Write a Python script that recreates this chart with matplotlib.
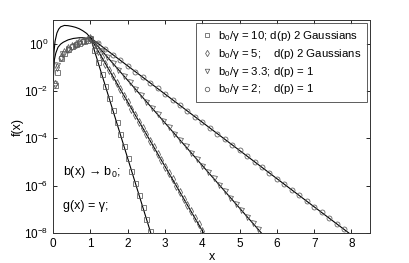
import numpy as np
import matplotlib
matplotlib.use("Agg")
import matplotlib.pyplot as plt
from matplotlib.ticker import NullLocator

plt.rcParams['font.family'] = ['Liberation Sans', 'DejaVu Sans']
plt.rcParams['mathtext.fontset'] = 'custom'
plt.rcParams['mathtext.rm'] = 'Liberation Sans'
plt.rcParams['mathtext.it'] = 'Liberation Sans:italic'

# --- simulated histograms (log10 f) ---
sq_x = [0.05, 0.1, 0.2, 0.3, 0.4, 0.5, 0.6, 0.7, 0.8, 0.9, 1.0,
        1.1, 1.2, 1.3, 1.4, 1.5, 1.6, 1.7, 1.8, 1.9, 2.0,
        2.1, 2.2, 2.3, 2.4, 2.5, 2.6]
sq_lg = [-1.75, -1.2, -0.6, -0.38, -0.24, -0.12, -0.03, 0.04, 0.1, 0.16, 0.22,
         -0.26, -0.77, -1.28, -1.79, -2.30, -2.81, -3.32, -3.83, -4.34, -4.85,
         -5.36, -5.87, -6.38, -6.89, -7.40, -7.91]

di_x = [0.05, 0.1, 0.2, 0.3, 0.4, 0.5, 0.6, 0.7, 0.8, 0.9, 1.0,
        1.1, 1.2, 1.3, 1.4, 1.5, 1.6, 1.7, 1.8, 1.9, 2.0,
        2.1, 2.2, 2.3, 2.4, 2.5, 2.6, 2.7, 2.8, 2.9, 3.0,
        3.1, 3.2, 3.3, 3.4, 3.5, 3.6, 3.7, 3.8, 3.9, 4.0]
di_lg = [-1.7, -1.0, -0.55, -0.35, -0.2, -0.1, 0.0, 0.07, 0.12, 0.17, 0.22,
         -0.02, -0.29, -0.57, -0.84, -1.11, -1.38, -1.65, -1.93, -2.20, -2.47,
         -2.74, -3.01, -3.29, -3.56, -3.83, -4.10, -4.37, -4.65, -4.92, -5.19,
         -5.46, -5.73, -6.01, -6.28, -6.55, -6.82, -7.09, -7.37, -7.64, -7.91]

tr_x = [0.1, 0.25, 0.4, 0.55, 0.7, 0.85, 1.0,
        1.15, 1.3, 1.45, 1.6, 1.75, 1.9, 2.05, 2.2, 2.35, 2.5,
        2.65, 2.8, 2.95, 3.1, 3.25, 3.4, 3.55, 3.7, 3.85, 4.0,
        4.15, 4.3, 4.45, 4.6, 4.75, 4.9, 5.05, 5.2, 5.35, 5.5]
tr_lg = [-0.9, -0.45, -0.22, -0.08, 0.03, 0.12, 0.2,
         -0.02, -0.29, -0.56, -0.83, -1.10, -1.37, -1.64, -1.91, -2.18, -2.45,
         -2.72, -2.99, -3.26, -3.53, -3.80, -4.07, -4.34, -4.61, -4.88, -5.15,
         -5.42, -5.69, -5.96, -6.23, -6.50, -6.77, -7.04, -7.31, -7.58, -7.85]

ci_x = [0.05, 0.2, 0.4, 0.6, 0.8, 1.0,
        1.2, 1.4, 1.6, 1.8, 2.0, 2.2, 2.4, 2.6, 2.8, 3.0,
        3.2, 3.4, 3.6, 3.8, 4.0, 4.2, 4.4, 4.6, 4.8, 5.0,
        5.2, 5.4, 5.6, 5.8, 6.0, 6.2, 6.4, 6.6, 6.8, 7.0,
        7.2, 7.4, 7.6, 7.8]
ci_lg = [-1.65, -0.6, -0.25, -0.05, 0.1, 0.22,
         0.01, -0.23, -0.46, -0.70, -0.94, -1.18, -1.42, -1.65, -1.89, -2.13,
         -2.37, -2.61, -2.84, -3.08, -3.32, -3.56, -3.80, -4.03, -4.27, -4.51,
         -4.75, -4.99, -5.22, -5.46, -5.70, -5.94, -6.18, -6.41, -6.65, -6.89,
         -7.13, -7.37, -7.60, -7.84]

# --- theory curves (log10 f) ---
up_x = [0.003, 0.02, 0.05, 0.1, 0.15, 0.2, 0.3, 0.4, 0.5, 0.6, 0.7, 0.8, 0.9, 1.0, 8.5]
up_lg = [-1.8, -0.4, 0.1, 0.45, 0.62, 0.71, 0.77, 0.76, 0.73, 0.69, 0.63, 0.54, 0.43, 0.25, -8.68]
lo_x = [0.003, 0.03, 0.07, 0.13, 0.2, 0.27, 0.4, 0.54, 0.7, 0.8, 0.9, 1.0, 6.0]
lo_lg = [-1.5, -0.7, -0.4, -0.15, -0.02, 0.06, 0.16, 0.22, 0.25, 0.25, 0.23, 0.25, -8.75]
sq_line_x = [1.0, 2.7]
sq_line_lg = [0.25, -8.42]
di_line_x = [1.0, 4.1]
di_line_lg = [0.25, -8.18]

y_ticks = [1e-8, 1e-6, 1e-4, 1e-2, 1e0]

labels = ['b$_0$/γ = 10; d(p) 2 Gaussians',
          'b$_0$/γ = 5;    d(p) 2 Gaussians',
          'b$_0$/γ = 3.3; d(p) = 1',
          'b$_0$/γ = 2;    d(p) = 1']

fig = plt.figure(figsize=(4.09, 2.63), dpi=100)
ax = fig.add_axes([0.130, 0.114, 0.775, 0.810])

lw = 0.8
for xs, lg in [(up_x, up_lg), (lo_x, lo_lg), (sq_line_x, sq_line_lg), (di_line_x, di_line_lg)]:
    ax.plot(xs, 10.0 ** np.array(lg), color='black', lw=lw, zorder=2)

mk = dict(ls='none', mfc='none', mec='0.35', mew=0.55, ms=3.6, zorder=3)
h1, = ax.plot(sq_x, 10.0 ** np.array(sq_lg), marker='s', **mk)
h2, = ax.plot(di_x, 10.0 ** np.array(di_lg), marker='d', **mk)
h3, = ax.plot(tr_x, 10.0 ** np.array(tr_lg), marker='v', **mk)
h4, = ax.plot(ci_x, 10.0 ** np.array(ci_lg), marker='o', **mk)

ax.set_yscale('log')
ax.set_xlim(0, 8.5)
ax.set_ylim(1e-8, 1e1)
ax.set_xticks(range(0, 9))
ax.set_yticks(y_ticks)
ax.yaxis.set_minor_locator(NullLocator())
ax.tick_params(direction='in', top=True, right=True, labelsize=8.5, length=3, width=0.6)
for s in ax.spines.values():
    s.set_linewidth(0.7)
    s.set_color('0.2')

ax.set_xlabel('x', fontsize=9, labelpad=1)
ax.set_ylabel('f(x)', fontsize=9, labelpad=0)

ax.text(0.27, 10 ** -5.43, 'b(x) → b$_0$;', fontsize=9, va='center')
ax.text(0.27, 10 ** -6.86, 'g(x) = γ;', fontsize=9, va='center')

leg = ax.legend([h1, h2, h3, h4], labels, loc='upper right', fontsize=8.2,
                frameon=True, fancybox=False, edgecolor='0.2', markerscale=0.9,
                handlelength=1.0, handletextpad=0.5, borderpad=0.45,
                labelspacing=0.35, borderaxespad=0.3)
leg.get_frame().set_linewidth(0.7)

fig.savefig('out.png', dpi=100)
